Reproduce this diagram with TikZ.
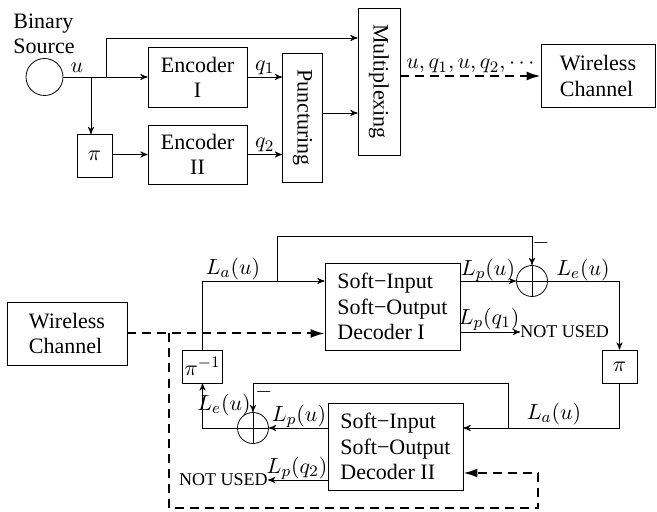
\documentclass[tikz,border=0pt,11pt]{standalone}
\usepackage{fontspec}
\setmainfont{Liberation Serif}
\usetikzlibrary{arrows,arrows.meta,positioning}
\tikzset{
    %Define standard arrow tip
    >=stealth',
    %Define style for boxes
    blok/.style={
           rectangle,
           draw=black,
           inner sep=1pt,
           align=center},
    %Define style for the adders
    adder/.style={
           circle,
           draw=black,
           minimum size=15.5pt,
           inner sep=0pt,
           path picture={\draw[-] (path picture bounding box.north) -- (path picture bounding box.south)
                                  (path picture bounding box.west) -- (path picture bounding box.east);}},
    % Define style for the channel lines
    chan/.style={
           line width=1pt,
           dash pattern=on 4.5pt off 3pt,
           -{Latex[length=7pt,width=4.5pt]}},
    lbl/.style={inner sep=1pt},
    nu/.style={inner sep=0pt, font=\fontsize{9}{10}\selectfont}
}

\begin{document}
\begin{tikzpicture}[x=0.5pt,y=-0.5pt,->,
  every node/.append style={font=\fontsize{11}{12.6}\selectfont}]
\useasboundingbox (0,0) rectangle (657,512);
% encoder
\node[circle,draw,minimum size=18.5pt,inner sep=0pt](src) at (44.5,77){};
\node[align=left](srclbl) at (44,33.5){Binary\\Source};
\node[blok,minimum width=49.5pt,minimum height=30pt](enc1) at (197.5,77){Encoder\\I};
\node[blok,minimum width=49.5pt,minimum height=29.5pt](enc2) at (197.5,154.5){Encoder\\II};
\node[blok,minimum width=17.5pt,minimum height=21.5pt](pi1) at (94.5,156){$\pi$};
\node[blok,minimum width=20pt,minimum height=64.5pt](punct) at (302.5,117.5){\rotatebox{-90}{Puncturing}};
\node[blok,minimum width=21pt,minimum height=73.5pt](mux) at (379,81.5){\rotatebox{-90}{Multiplexing}};
\node[blok,minimum width=57pt,minimum height=31.5pt,align=left](wc1) at (598,76){Wireless\\Channel};
\coordinate (b1) at (91,77);
\coordinate (b2) at (106,77);
\draw (src) -- (enc1);
\node[lbl](ulbl) at (77,68){$u$};
\draw (b1) -- (b1 |- pi1.north);
\draw (b2) -- (b2 |- 0,38) -- (mux.west |- 0,38);
\draw (pi1.east |- enc2) -- (enc2);
\draw (enc1) -- (enc1 -| punct.west) node[lbl,midway,above](q1lbl){$q_1$};
\draw (enc2) -- (enc2 -| punct.west) node[lbl,midway,above](q2lbl){$q_2$};
\draw (punct.east |- 0,113) -- (mux.west |- 0,113);
\draw[chan] (wc1.west -| mux.east) -- (wc1.west) node[lbl,midway,above](seq){$u,q_1,u,q_2,\cdots$};
% decoder
\node[blok,minimum width=60pt,minimum height=31.5pt,align=left](wc2) at (67,333.5){Wireless\\Channel};
\node[blok,minimum width=67.5pt,minimum height=43.5pt,align=left](dec1) at (392.5,306.5){Soft−Input\\Soft−Output\\Decoder I};
\node[blok,minimum width=67.5pt,minimum height=43.5pt,align=left](dec2) at (395.5,446.5){Soft−Input\\Soft−Output\\Decoder II};
\node[blok,minimum width=17.5pt,minimum height=16.5pt](pinv) at (202.5,366.5){$\pi^{-1}$};
\node[blok,minimum width=17.5pt,minimum height=16.5pt](pi2) at (619.5,366.5){$\pi$};
\node[adder](add1) at (532,281){};
\node[adder](add2) at (253,428){};
\node[nu,anchor=west](nu1) at (520,332){NOT USED};
\node[nu,anchor=east](nu2) at (268,480){NOT USED};
\coordinate (d1) at (169,333.5);
\coordinate (d3) at (277,281);
\coordinate (d4) at (508,428);
\draw[chan] (wc2.east) -- (wc2.east -| dec1.west);
\draw[chan] (d1) |- (538,508) |- (dec2.east |- 0,473);
\draw (pinv.north) |- (dec1.west |- 0,281);
\draw (d3) -- (d3 |- 0,236) -| (add1.north);
\draw (dec1.east |- add1) -- (add1);
\draw (dec1.east |- 0,332) -- (nu1.west);
\draw (add1.east) -| (pi2.north);
\draw (pi2.south) |- (dec2.east |- 0,428);
\draw (d4) -- (d4 |- 0,383) -| (add2.north);
\draw (dec2.west |- add2) -- (add2);
\draw (add2.west) -| (pinv.south);
\draw (dec2.west |- 0,480) -- (nu2.east);
\node[lbl](la1) at (233,269){$L_a(u)$};
\node[lbl](lp1) at (488,270){$L_p(u)$};
\node[lbl](lq1) at (489,319){$L_p(q_1)$};
\node[lbl](le1) at (583,270){$L_e(u)$};
\node[lbl](m1) at (541,243){$-$};
\node[lbl](la2) at (554,414){$L_a(u)$};
\node[lbl](lp2) at (299,416){$L_p(u)$};
\node[lbl](le2) at (224,405){$L_e(u)$};
\node[lbl](m2) at (264,392){$-$};
\node[lbl](lq2) at (297,468){$L_p(q_2)$};
\end{tikzpicture}
\end{document}
